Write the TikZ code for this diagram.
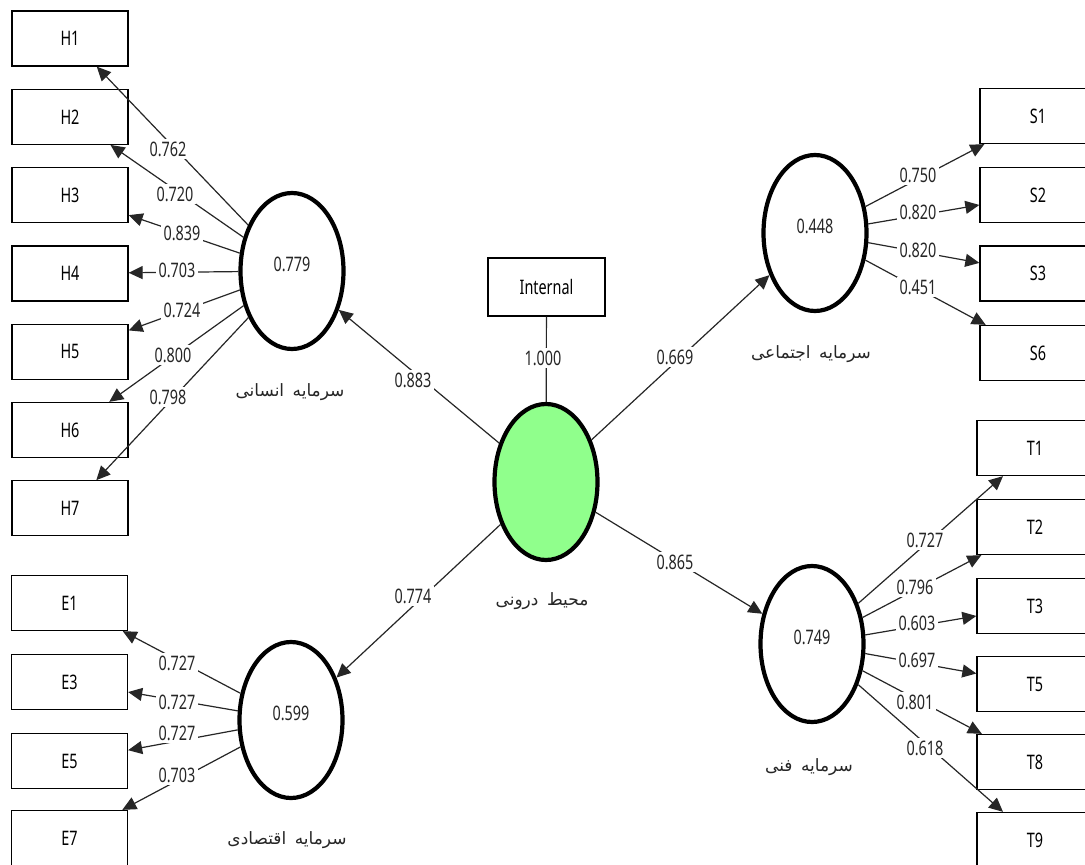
\documentclass[tikz,border=0pt]{standalone}
\usepackage{fontspec}
\setmainfont{Noto Sans}[FakeStretch=0.72]
\newfontfamily\fafont[Script=Arabic]{DejaVu Sans}
\TeXXeTstate=1
\usetikzlibrary{shapes.geometric,arrows.meta}
\newcommand{\lbl}{\fontsize{20}{23}\selectfont}
\newcommand{\falbl}{\fafont\fontsize{17}{20}\selectfont}
\definecolor{lvgreen}{RGB}{144,255,140}
\begin{document}
\begin{tikzpicture}[x=1pt,y=-1pt,
  ind/.style={draw=black, line width=1.3pt, minimum width=116pt, minimum height=55pt, inner sep=0pt, font=\lbl},
  lv/.style={ellipse, draw=black, line width=4.2pt, minimum width=103pt, minimum height=156pt, inner sep=0pt},
  ld/.style={draw=black!85, line width=1.2pt, -{Triangle[length=14pt,width=13pt]}},
  ln/.style={draw=black!85, line width=1.2pt},
  co/.style={fill=white, inner sep=3pt, font=\lbl, text=black!85},
  fa/.style={font=\falbl, text=black!85, inner sep=1pt},
  vl/.style={font=\lbl, text=black!85, yshift=7pt}
]
\clip (0,0) rectangle (1085,865);
\fill[white] (0,0) rectangle (1085,865);

% indicator boxes
\node[ind] (H1) at (70,38.5) {H1};
\node[ind] (H2) at (70,116.8) {H2};
\node[ind] (H3) at (70,195.1) {H3};
\node[ind] (H4) at (70,273.4) {H4};
\node[ind] (H5) at (70,351.7) {H5};
\node[ind] (H6) at (70,430) {H6};
\node[ind] (H7) at (70,508.3) {H7};

\node[ind] (E1) at (69.5,603) {E1};
\node[ind] (E3) at (69.5,682) {E3};
\node[ind] (E5) at (69.5,761) {E5};
\node[ind] (E7) at (69.5,838) {E7};

\node[ind] (S1) at (1038,116) {S1};
\node[ind] (S2) at (1038,195) {S2};
\node[ind] (S3) at (1038,273.5) {S3};
\node[ind] (S6) at (1038,353) {S6};

\node[ind] (T1) at (1035,448) {T1};
\node[ind] (T2) at (1035,527) {T2};
\node[ind] (T3) at (1035,606) {T3};
\node[ind] (T5) at (1035,684) {T5};
\node[ind] (T8) at (1035,762) {T8};
\node[ind] (T9) at (1035,840) {T9};

\node[ind, minimum width=117pt, minimum height=58pt] (Int) at (546.5,287) {Internal};

% latent variables
\node[lv, fill=lvgreen] (C) at (546,482) {};
\node[lv, label={[vl]center:0.779}] (HC) at (292,271) {};
\node[lv, label={[vl]center:0.599}] (EC) at (291,720) {};
\node[lv, label={[vl]center:0.448}] (SC) at (815,233) {};
\node[lv, label={[vl]center:0.749}] (TC) at (812,644) {};

% latent names
\node[fa] (nH) at (290,392) {\beginR سرمایه\hspace{0.5em}انسانی\endR};
\node[fa] (nE) at (287,840) {\beginR سرمایه\hspace{0.5em}اقتصادی\endR};
\node[fa] (nS) at (811,354) {\beginR سرمایه\hspace{0.5em}اجتماعی\endR};
\node[fa] (nT) at (809,767) {\beginR سرمایه\hspace{0.5em}فنی\endR};
\node[fa] (nC) at (542,601) {\beginR محیط\hspace{0.5em}درونی\endR};

% structural paths
\draw[ln] (Int) -- (C);
\draw[ld] (C) -- (HC);
\draw[ld] (C) -- (EC);
\draw[ld] (C) -- (SC);
\draw[ld] (C) -- (TC);

% outer loadings
\foreach \b in {H1,H2,H3,H4,H5,H6,H7} \draw[ld] (HC) -- (\b);
\foreach \b in {E1,E3,E5,E7} \draw[ld] (EC) -- (\b);
\foreach \b in {S1,S2,S3,S6} \draw[ld] (SC) -- (\b);
\foreach \b in {T1,T2,T3,T5,T8,T9} \draw[ld] (TC) -- (\b);

% path coefficient labels
\node[co] (p0) at (543,358) {1.000};
\node[co] (p1) at (413,380) {0.883};
\node[co] (p2) at (675,357) {0.669};
\node[co] (p3) at (675,562) {0.865};
\node[co] (p4) at (413,596) {0.774};

% loading labels
\node[co] (h1) at (168,149) {0.762};
\node[co] (h2) at (175,194) {0.720};
\node[co] (h3) at (182,233) {0.839};
\node[co] (h4) at (177,270) {0.703};
\node[co] (h5) at (182,310) {0.724};
\node[co] (h6) at (173,355) {0.800};
\node[co] (h7) at (168,397) {0.798};

\node[co] (e1) at (177,663) {0.727};
\node[co] (e3) at (177,702) {0.727};
\node[co] (e5) at (177,733) {0.727};
\node[co] (e7) at (177,775) {0.703};

\node[co] (s1) at (918,175) {0.750};
\node[co] (s2) at (918,212) {0.820};
\node[co] (s3) at (918,250) {0.820};
\node[co] (s6) at (918,287) {0.451};

\node[co] (t1) at (925,540) {0.727};
\node[co] (t2) at (915,587) {0.796};
\node[co] (t3) at (917,623) {0.603};
\node[co] (t5) at (917,660) {0.697};
\node[co] (t8) at (915,702) {0.801};
\node[co] (t9) at (925,748) {0.618};
\end{tikzpicture}
\end{document}
